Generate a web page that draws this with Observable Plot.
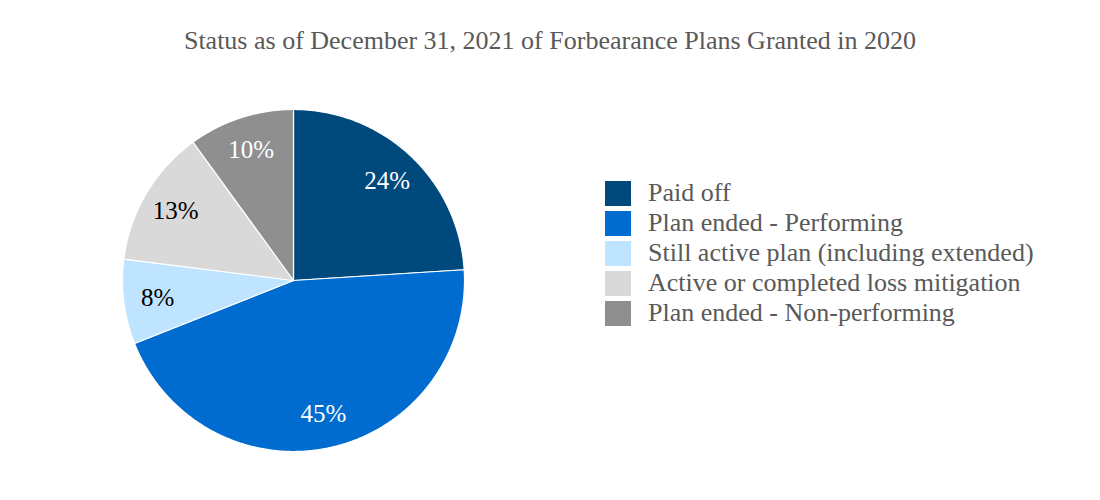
<!DOCTYPE html>
<html>
<head>
<meta charset="utf-8">
<script src="https://cdn.jsdelivr.net/npm/d3@7"></script>
<script src="https://cdn.jsdelivr.net/npm/@observablehq/plot@0.6"></script>
<style>
  body { margin: 0; background: #fff; font-family: "Liberation Serif", "Times New Roman", serif; }
  #wrap { position: relative; width: 1100px; height: 500px; }
  #title { position: absolute; left: 0; top: 25px; width: 1100px; text-align: center; font-size: 26px; line-height: 32px; color: #595959; }
  #chart { position: absolute; left: 0; top: 80px; }
  #legend { position: absolute; left: 605px; top: 178px; }
  .item { display: flex; align-items: center; height: 30px; }
  .sw { width: 26px; height: 25px; margin-right: 17px; }
  .lab { font-size: 26px; line-height: 30px; color: #595959; white-space: nowrap; }
</style>
</head>
<body>
<div id="wrap">
  <div id="title">Status as of December 31, 2021 of Forbearance Plans Granted in 2020</div>
  <div id="chart"></div>
  <div id="legend"></div>
</div>
<script>
const categories = ["Paid off", "Plan ended - Performing", "Still active plan (including extended)", "Active or completed loss mitigation", "Plan ended - Non-performing"];
const values = [24, 45, 8, 13, 10];
const colors = ["#00497D", "#006CD0", "#BFE4FF", "#D9D9D9", "#8F8F8F"];
const labelColors = ["white", "white", "black", "black", "white"];

const total = d3.sum(values);
const slices = [];
const labels = [];
let acc = 0;
categories.forEach((c, i) => {
  const a0 = acc / total * 2 * Math.PI;
  acc += values[i];
  const a1 = acc / total * 2 * Math.PI;
  const n = Math.max(2, Math.ceil((a1 - a0) / (Math.PI / 360)));
  slices.push({cat: c, x: 0, y: 0});
  for (let k = 0; k <= n; k++) {
    const a = a0 + (a1 - a0) * k / n;
    slices.push({cat: c, x: Math.sin(a), y: Math.cos(a)});
  }
  slices.push({cat: c, x: 0, y: 0});
  const am = (a0 + a1) / 2;
  labels.push({cat: c, text: values[i] + "%", x: 0.8 * Math.sin(am), y: 0.8 * Math.cos(am), color: labelColors[i]});
});

const plot = Plot.plot({
  width: 586,
  height: 420,
  marginLeft: 122, marginRight: 122,
  marginTop: 29, marginBottom: 49,
  x: {domain: [-1, 1], axis: null},
  y: {domain: [-1, 1], axis: null},
  color: {domain: categories, range: colors},
  style: {fontFamily: "Liberation Serif, Times New Roman, serif", background: "white"},
  marks: [
    Plot.line(slices, {x: "x", y: "y", z: "cat", fill: "cat", stroke: "white", strokeWidth: 1.2, curve: "linear"}),
    Plot.text(labels, {x: "x", y: "y", text: "text", fill: d => d.color, fontSize: 25})
  ]
});
document.getElementById("chart").appendChild(plot);

const legend = document.getElementById("legend");
categories.forEach((c, i) => {
  const it = document.createElement("div");
  it.className = "item";
  const sw = document.createElement("div");
  sw.className = "sw";
  sw.style.background = colors[i];
  const lab = document.createElement("div");
  lab.className = "lab";
  lab.textContent = c;
  it.appendChild(sw); it.appendChild(lab);
  legend.appendChild(it);
});
</script>
</body>
</html>
